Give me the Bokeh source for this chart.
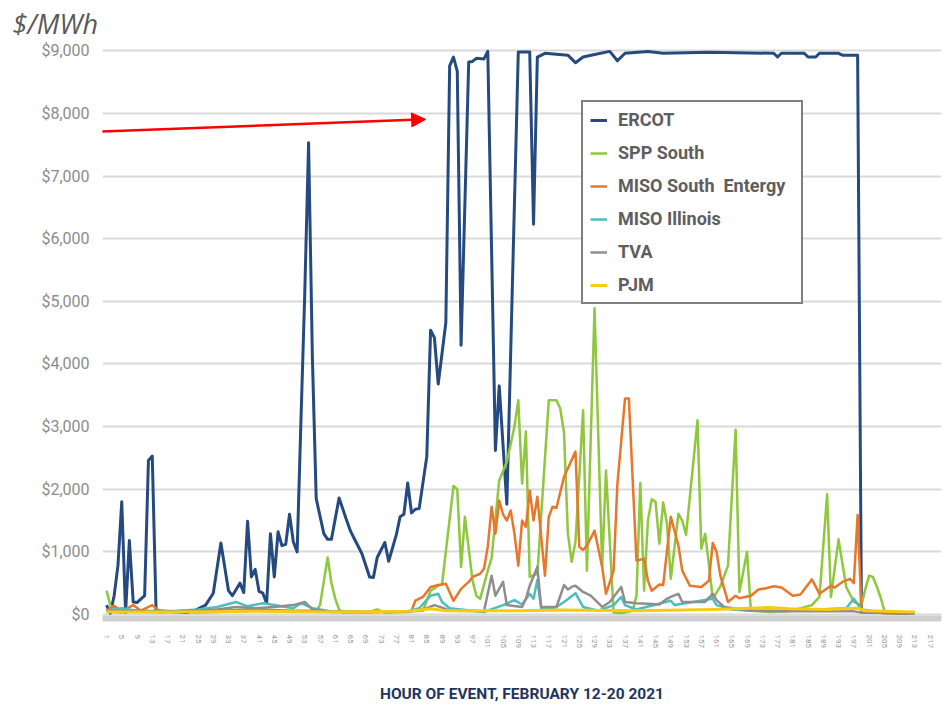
from bokeh.plotting import figure
from bokeh.models import (Range1d, FixedTicker, Legend, LegendItem, Label, Arrow, NormalHead)
from bokeh.embed import file_html
from bokeh.resources import INLINE

# ---------------- data ----------------
hour_ticks = list(range(1, 218, 4))
hour_tick_labels = [str(h) for h in hour_ticks]
y_ticks = [0, 1000, 2000, 3000, 4000, 5000, 6000, 7000, 8000, 9000]
y_tick_labels = ["$0", "$1,000", "$2,000", "$3,000", "$4,000", "$5,000",
                 "$6,000", "$7,000", "$8,000", "$9,000"]

series_names = ["ERCOT", "SPP South", "MISO South  Entergy", "MISO Illinois", "TVA", "PJM"]

ercot_h = [1, 2, 3, 4, 5, 6, 7, 8, 9, 11, 12, 13, 14, 22, 24, 27, 29, 31, 33, 34, 36, 37, 38, 39, 40,
           41, 42, 43, 44, 45, 46, 47, 48, 49, 50, 51, 52, 53, 54, 55, 56, 58, 59, 60, 62, 64, 65, 66,
           68, 70, 71, 72, 74, 75, 77, 78, 79, 80, 81, 82, 83, 85, 86, 87, 88, 90, 91, 92, 93, 94, 96,
           97, 98, 100, 101, 103, 104, 106, 109, 112, 113, 114, 116, 122, 124, 126, 129, 133, 135, 137,
           143, 147, 159, 176, 177, 178, 184, 185, 187, 188, 193, 194, 198, 199, 212]
ercot_v = [150, 20, 300, 780, 1800, 30, 1180, 200, 190, 300, 2460, 2530, 60, 30, 60, 150, 340, 1140,
           380, 300, 500, 350, 1490, 600, 720, 370, 340, 180, 1290, 600, 1320, 1100, 1120, 1600, 1160,
           1000, 3100, 5130, 7530, 4100, 1850, 1290, 1200, 1200, 1860, 1500, 1330, 1210, 970, 600, 590,
           910, 1150, 850, 1270, 1560, 1600, 2100, 1620, 1680, 1690, 2520, 4540, 4420, 3680, 4660, 8760,
           8900, 8670, 4300, 8820, 8830, 8880, 8870, 8990, 2620, 3650, 1760, 8980, 8980, 6230, 8900,
           8960, 8930, 8810, 8900, 8940, 8990, 8840, 8960, 8990, 8960, 8975, 8960, 8900, 8960, 8960,
           8900, 8900, 8960, 8960, 8930, 8930, 40, 20]

spp_h = [1, 2, 3, 5, 8, 12, 16, 20, 24, 30, 40, 50, 56, 57, 59, 60, 61, 62, 63, 70, 72, 74, 84, 86,
         88, 89, 92, 93, 94, 95, 97, 98, 99, 101, 102, 104, 106, 108, 109, 110, 111, 112, 114, 117, 119,
         120, 121, 122, 123, 124, 126, 127, 129, 131, 132, 134, 136, 139, 140, 141, 142, 143, 144, 145,
         146, 147, 148, 149, 151, 152, 153, 156, 157, 158, 159, 160, 162, 164, 166, 167, 169, 170, 175,
         180, 186, 188, 190, 191, 193, 195, 197, 199, 200, 201, 202, 203, 204, 205, 208, 213]
spp_v = [380, 150, 40, 30, 60, 40, 30, 60, 30, 40, 60, 50, 60, 150, 910, 500, 250, 80, 30, 40, 80, 30,
         60, 380, 460, 480, 2050, 2000, 760, 1560, 540, 300, 250, 700, 900, 2140, 2440, 3000, 3420, 2090,
         2920, 600, 650, 3420, 3420, 3290, 2900, 1300, 840, 1160, 3260, 700, 4890, 760, 2300, 30, 20,
         60, 300, 2100, 380, 1500, 1840, 1800, 1130, 1790, 1450, 570, 1610, 1500, 1270, 3100, 1050,
         1290, 800, 250, 450, 780, 2950, 360, 1000, 60, 40, 50, 150, 280, 1920, 280, 1200, 440, 200,
         150, 400, 620, 600, 450, 280, 60, 30, 20]

miso_s_h = [1, 3, 5, 8, 10, 13, 15, 20, 30, 40, 50, 60, 70, 80, 81, 82, 84, 86, 88, 90, 92, 94, 96,
            97, 99, 100, 101, 102, 103, 104, 105, 106, 107, 108, 109, 110, 111, 112, 113, 114, 116, 117,
            118, 119, 121, 124, 125, 126, 127, 129, 131, 132, 134, 135, 137, 138, 140, 142, 143, 144,
            146, 147, 149, 151, 152, 154, 157, 159, 160, 161, 162, 164, 166, 167, 170, 172, 174, 176,
            178, 181, 183, 186, 188, 191, 192, 194, 196, 197, 198, 199, 205, 213]
miso_s_v = [60, 140, 50, 150, 60, 150, 50, 50, 60, 80, 60, 50, 40, 50, 60, 220, 280, 440, 470, 490,
            220, 410, 520, 600, 650, 730, 1080, 1720, 1290, 1820, 1600, 1500, 1660, 1290, 780, 1500,
            1400, 1980, 1500, 1880, 620, 1560, 1720, 1700, 2200, 2600, 1080, 1030, 1100, 1340, 760, 330,
            700, 2090, 3450, 3450, 860, 890, 540, 380, 480, 470, 1560, 1100, 700, 460, 440, 540, 1140,
            1000, 620, 200, 300, 260, 300, 400, 420, 450, 430, 300, 320, 560, 330, 460, 430, 520, 570,
            500, 1590, 60, 20, 20]

miso_il_h = [1, 5, 10, 20, 25, 30, 35, 38, 42, 45, 50, 52, 55, 60, 70, 80, 83, 86, 88, 89, 91, 100,
             105, 108, 110, 112, 113, 114, 115, 118, 121, 124, 126, 130, 134, 136, 137, 140, 149, 150,
             160, 161, 165, 170, 180, 195, 197, 199, 205, 213]
miso_il_v = [60, 100, 50, 60, 80, 120, 200, 130, 180, 150, 100, 180, 100, 50, 40, 50, 100, 300, 330,
             200, 100, 40, 150, 230, 160, 330, 250, 550, 100, 80, 200, 340, 120, 60, 150, 280, 150, 80,
             220, 150, 250, 150, 80, 60, 60, 100, 250, 80, 30, 20]

tva_h = [1, 10, 20, 30, 35, 40, 45, 50, 53, 55, 60, 80, 85, 87, 89, 91, 100, 102, 103, 105, 106, 110,
         111, 112, 114, 115, 119, 121, 122, 123, 124, 126, 128, 129, 131, 133, 136, 137, 140, 143, 146,
         148, 149, 151, 152, 158, 160, 161, 163, 170, 180, 197, 199, 213]
tva_v = [50, 60, 40, 80, 120, 100, 120, 150, 200, 80, 40, 40, 100, 150, 110, 60, 50, 620, 300, 520,
         150, 120, 250, 460, 760, 120, 120, 470, 400, 440, 460, 360, 300, 240, 120, 200, 440, 200, 180,
         170, 160, 250, 280, 330, 200, 200, 330, 230, 120, 60, 50, 50, 30, 20]

pjm_h = [1, 20, 40, 60, 80, 86, 90, 110, 120, 140, 160, 175, 180, 190, 198, 200, 213]
pjm_v = [40, 40, 50, 40, 50, 90, 60, 60, 70, 60, 80, 110, 90, 80, 100, 60, 40]

series_h = [ercot_h, spp_h, miso_s_h, miso_il_h, tva_h, pjm_h]
series_v = [ercot_v, spp_v, miso_s_v, miso_il_v, tva_v, pjm_v]
series_colors = ["#254a80", "#8fc73e", "#e8772b", "#4fbcbf", "#8e8e8e", "#f5cb14"]
series_widths = [3, 2.5, 2.5, 2.5, 2.5, 3]

FONT = "Roboto"

# ---------------- figure ----------------
p = figure(width=945, height=706, output_backend="svg", toolbar_location=None,
           x_range=Range1d(-0.05, 220.0), y_range=Range1d(-64, 9212),
           min_border_left=102, min_border_right=4, min_border_top=36, min_border_bottom=88)
p.outline_line_color = None
p.background_fill_color = "white"
p.border_fill_color = "white"

p.xgrid.grid_line_color = None
p.ygrid.ticker = FixedTicker(ticks=y_ticks)
p.ygrid.grid_line_color = "#d9d9d9"
p.ygrid.grid_line_width = 2

p.yaxis.ticker = FixedTicker(ticks=y_ticks)
p.yaxis.major_label_overrides = {t: l for t, l in zip(y_ticks, y_tick_labels)}
p.yaxis.axis_line_color = None
p.yaxis.major_tick_line_color = None
p.yaxis.minor_tick_line_color = None
p.yaxis.major_label_standoff = 7
p.yaxis.major_label_text_font = FONT
p.yaxis.major_label_text_font_size = "16px"
p.yaxis.major_label_text_color = "#8c8c8c"

p.xaxis.ticker = FixedTicker(ticks=hour_ticks)
p.xaxis.major_label_overrides = {t: l for t, l in zip(hour_ticks, hour_tick_labels)}
p.xaxis.major_label_orientation = "vertical"
p.xaxis.major_label_text_font = FONT
p.xaxis.major_label_text_font_size = "8px"
p.xaxis.major_label_text_color = "#9a9a9a"
p.xaxis.major_label_standoff = 10
p.xaxis.major_tick_line_color = None
p.xaxis.minor_tick_line_color = None
p.xaxis.axis_line_color = "#cfcfcf"
p.xaxis.axis_line_width = 6
p.xaxis.axis_label = "HOUR OF EVENT, FEBRUARY 12-20 2021"
p.xaxis.axis_label_text_font = FONT
p.xaxis.axis_label_text_font_style = "bold"
p.xaxis.axis_label_text_font_size = "15.5px"
p.xaxis.axis_label_text_color = "#1f3560"
p.xaxis.axis_label_standoff = 34

renderers = []
for h, v, c, w in zip(series_h, series_v, series_colors, series_widths):
    r = p.line(x=h, y=v, line_color=c, line_width=w, line_join="round")
    renderers.append(r)

legend = Legend(items=[LegendItem(label=n, renderers=[r]) for n, r in zip(series_names, renderers)],
                location=(479, 314))
legend.label_text_font = FONT
legend.label_text_font_size = "18px"
legend.label_text_font_style = "bold"
legend.label_text_color = "#5e5e5e"
legend.glyph_width = 17
legend.glyph_height = 20
legend.label_height = 20
legend.label_width = 176
legend.label_standoff = 11
legend.spacing = 12
legend.padding = 7
legend.margin = 0
legend.border_line_color = "black"
legend.border_line_width = 2
legend.background_fill_color = "white"
legend.background_fill_alpha = 1
p.add_layout(legend)

# unit label at top left (in the top panel so it is not clipped to the frame)
p.add_layout(Label(x=-23.66, y=9737, text="$/MWh",
                   text_font="Open Sans", text_font_style="italic",
                   text_font_size="27px", text_color="#595959",
                   text_align="left", text_baseline="top"), "above")

# red call-out arrow
p.add_layout(Arrow(end=NormalHead(size=14, fill_color="#ff0000", line_color="#ff0000"),
                   x_start=-26.8, y_start=7650, x_end=84.7, y_end=7905,
                   line_color="#ff0000", line_width=2.5))

open("out.html", "w").write(file_html(p, INLINE))
